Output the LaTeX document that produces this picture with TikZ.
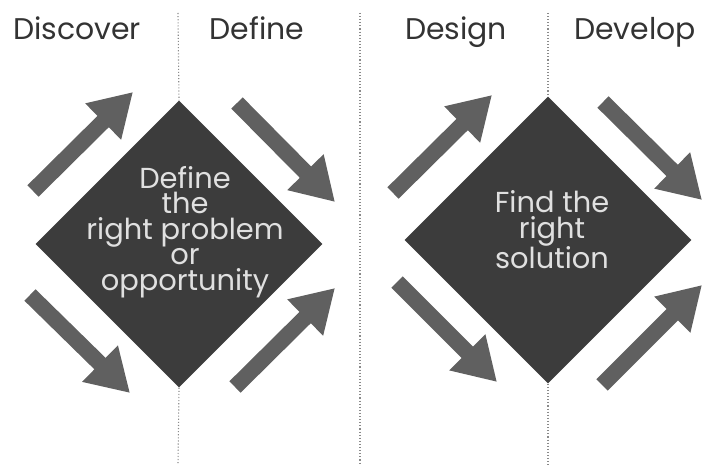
\documentclass[tikz,border=0pt]{standalone}
\usepackage{fontspec}
\setmainfont{Poppins}
\usetikzlibrary{shapes.geometric, arrows.meta}
\definecolor{boxgray}{HTML}{3C3C3C}
\definecolor{flowgray}{HTML}{606060}
\definecolor{headgray}{HTML}{333333}
\definecolor{sepgray}{HTML}{8A8A8A}
\tikzset{
phase/.style = {text=headgray, anchor=base, inner sep=0pt,
                font=\fontsize{30}{30}\selectfont},
goal/.style = {diamond, fill=boxgray, aspect=1, inner sep=0pt,
               minimum size=#1},
goal/.default = 287bp, % full width of the diamond
goaltext/.style = {text=white!88!black, align=center, inner sep=0pt,
                   font=\fontsize{29}{25.5}\selectfont},
flow/.style = {draw=flowgray, line width=16bp,
               -{Triangle[width=48bp, length=42bp]}},
sep/.style = {draw=sepgray, line width=1.1bp, dash pattern=on 1.1bp off 2bp}
}

\begin{document}
\begin{tikzpicture}[x=1bp, y=-1bp]
	\def \ytop{13}
	\def \ybot{465}
	\useasboundingbox (0,0) rectangle (704,465);

	% Diamonds
	\node[goal] (probl) at (179,244) {};
	\node[goal] (solut) at (548,240) {};

	% Separators
	\draw[sep] (178,\ytop) -- (probl.north);
	\draw[sep] (probl.south) -- (178,\ybot);
	\draw[sep] (360,\ytop) -- (360,\ybot);
	\draw[sep] (548,\ytop) -- (solut.north);
	\draw[sep] (solut.south) -- (548,\ybot);

	% Phases
	\node[phase] (disc) at (77,40)  {Discover};
	\node[phase] (defi) at (257,40) {Define};
	\node[phase] (desi) at (456,40) {Design};
	\node[phase] (deve) at (635,40) {Develop};

	% Texts
	\node[goaltext] (probltxt) at (185,232) {Define\\the\\right problem\\or\\opportunity};
	\node[goaltext] (soluttxt) at (552,230) {Find the\\right\\solution};

	% Arrows (problem)
	\draw[flow] (33,191)  -- (133,92);  % discover
	\draw[flow] (237,103) -- (335,202); % define
	\draw[flow] (30,295)  -- (130,393); % discover
	\draw[flow] (235,387) -- (335,288); % define

	% Arrows (solution)
	\draw[flow] (393,193) -- (492,95);  % design
	\draw[flow] (603,102) -- (702,200); % develop
	\draw[flow] (397,282) -- (497,382); % design
	\draw[flow] (602,385) -- (702,285); % develop
\end{tikzpicture}
\end{document}
